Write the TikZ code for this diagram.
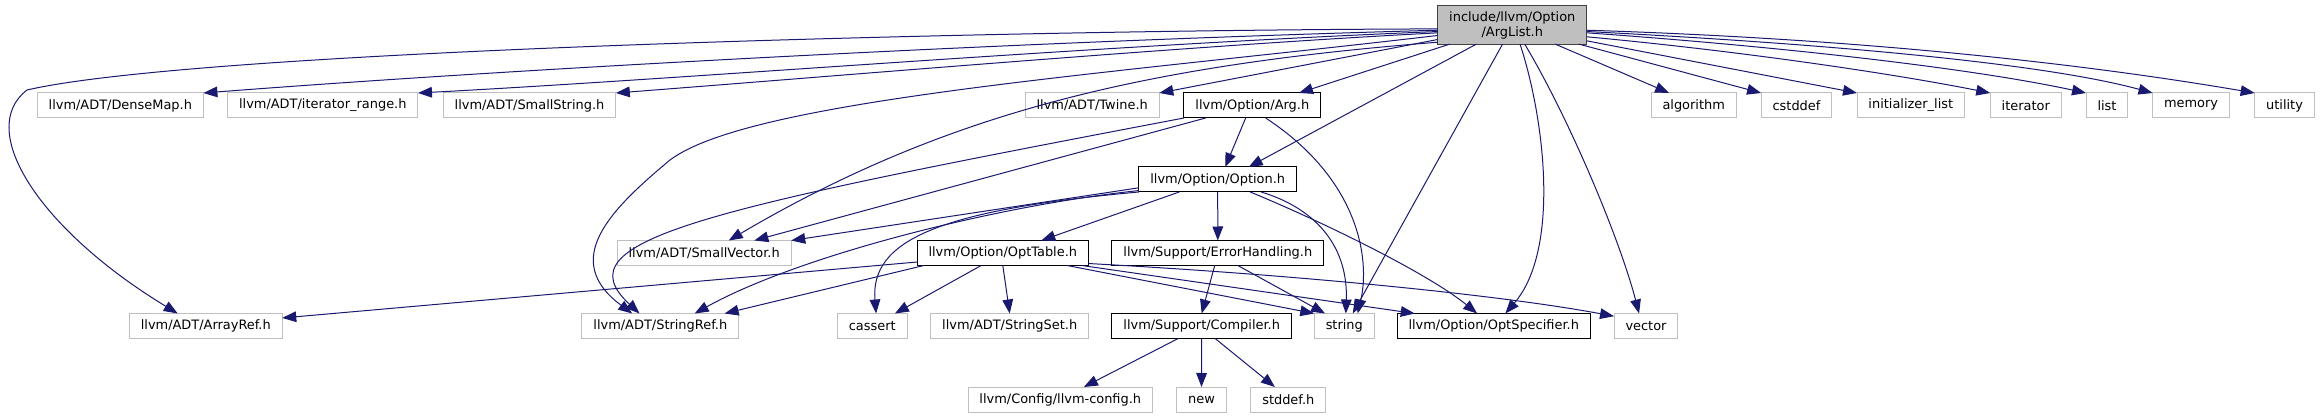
\documentclass[tikz,border=0pt]{standalone}
\usepackage{fontspec}
\setmainfont{DejaVu Sans}
\usetikzlibrary{arrows.meta}

\definecolor{edgeblue}{HTML}{191970}
\definecolor{boxgrey}{HTML}{BFBFBF}
\definecolor{rootline}{HTML}{404040}

\begin{document}
\begin{tikzpicture}[x=0.75pt,y=-0.75pt,
file/.style={draw=boxgrey,line width=0.75pt,inner xsep=8.6pt,inner ysep=0pt,
minimum height=18.75pt,outer sep=0pt,font=\fontsize{9.7}{11.25}\selectfont},
local/.style={file,draw=black},
root/.style={file,draw=rootline,fill=boxgrey,align=center,inner ysep=4pt},
inc/.style={-{Triangle[length=10.5pt,width=8pt]},draw=edgeblue,line width=0.75pt}]
\useasboundingbox (0,0) rectangle (2320,417);
% root
\node[root] (arglist) at (1512.3,25) {include/llvm/Option\\/ArgList.h};
% first row
\node[file] (densemap) at (120.3,105.5) {llvm/ADT/DenseMap.h};
\node[file] (itrange) at (322.8,105.5) {llvm/ADT/iterator\_range.h};
\node[file] (smallstring) at (529.5,105.5) {llvm/ADT/SmallString.h};
\node[file] (twine) at (1092.2,105.5) {llvm/ADT/Twine.h};
\node[local] (arg) at (1252.3,105.5) {llvm/Option/Arg.h};
\node[file] (algorithm) at (1693.7,105.5) {algorithm};
\node[file] (cstddef) at (1796.5,105.5) {cstddef};
\node[file] (initlist) at (1910.8,105.5) {initializer\_list};
\node[file] (iterator) at (2025.8,105.5) {iterator};
\node[file] (listh) at (2107,105.5) {list};
\node[file] (memory) at (2191,105.5) {memory};
\node[file] (utility) at (2284.5,105.5) {utility};
% second and third row
\node[local] (option) at (1217.7,179.5) {llvm/Option/Option.h};
\node[file] (smallvector) at (704.2,253) {llvm/ADT/SmallVector.h};
\node[local] (opttable) at (1002.8,253) {llvm/Option/OptTable.h};
\node[local] (errhandling) at (1217.8,253) {llvm/Support/ErrorHandling.h};
% fourth row
\node[file] (arrayref) at (205.8,326) {llvm/ADT/ArrayRef.h};
\node[file] (stringref) at (660.3,326) {llvm/ADT/StringRef.h};
\node[file] (cassert) at (872.3,326) {cassert};
\node[file] (stringset) at (1009.7,326) {llvm/ADT/StringSet.h};
\node[local] (compiler) at (1201.7,326) {llvm/Support/Compiler.h};
\node[file] (stringh) at (1344.3,326) {string};
\node[local] (optspec) at (1493.7,326) {llvm/Option/OptSpecifier.h};
\node[file] (vector) at (1646,326) {vector};
% last row
\node[file] (llvmconfig) at (1060.3,399.5) {llvm/Config/llvm-config.h};
\node[file] (newh) at (1201.5,399.5) {new};
\node[file] (stddef) at (1288.3,399.5) {stddef.h};

% ArgList.h
\draw[inc] (arglist.184) .. controls (1000,42) and (500,70) .. (densemap.north east);
\draw[inc] (arglist.185) .. controls (1100,45) and (700,78) .. (itrange.north east);
\draw[inc] (arglist.186) .. controls (1200,45) and (850,75) .. (smallstring.north east);
\draw[inc] (arglist.183) .. controls (1000,30) and (200,50) .. (27,90)
  .. controls (-25,130) and (40,230) .. (arrayref.156);
\draw[inc] (arglist.188) .. controls (1100,75) and (750,100) .. (670,160)
  .. controls (610,210) and (560,260) .. (stringref.156);
\draw[inc] (arglist.193) .. controls (1150,65) and (950,110) .. (smallvector.27);
\draw[inc] (arglist.191) -- (twine.north east);
\draw[inc] (arglist.197.6) -- (arg.15);
\draw[inc] (arglist.208) -- (option.22);
\draw[inc] (arglist.243) -- (stringh.56);
\draw[inc] (arglist.292) .. controls (1545,120) and (1560,250) .. (optspec.47);
\draw[inc] (arglist.303) .. controls (1570,120) and (1620,240) .. (vector.119);
\draw[inc] (arglist.336) -- (algorithm.153);
\draw[inc] (arglist.344) -- (cstddef.north west);
\draw[inc] (arglist.348) -- (initlist.north west);
\draw[inc] (arglist.351) .. controls (1750,52) and (1900,75) .. (iterator.north west);
\draw[inc] (arglist.354) .. controls (1800,48) and (1980,70) .. (listh.north west);
\draw[inc] (arglist.355) .. controls (1850,45) and (2050,65) .. (memory.north west);
\draw[inc] (arglist.356) .. controls (1900,40) and (2120,70) .. (utility.north west);
% Arg.h
\draw[inc] (arg.195.7) -- (smallvector.14);
\draw[inc] (arg.south west) .. controls (700,210) and (560,240) .. (stringref.149);
\draw[inc] (arg.242.5) -- (option.59);
\draw[inc] (arg.317) .. controls (1360,180) and (1370,260) .. (stringh.43);
% Option.h
\draw[inc] (option.186) -- (smallvector.north east);
\draw[inc] (option.188) .. controls (1000,205) and (800,255) .. (stringref.20);
\draw[inc] (option.189.5) .. controls (940,210) and (870,240) .. (cassert.73.5);
\draw[inc] (option.198.9) -- (opttable.18);
\draw[inc] (option.south) -- (errhandling.north);
\draw[inc] (option.344.6) .. controls (1320,210) and (1348,250) .. (stringh.83);
\draw[inc] (option.339) .. controls (1330,225) and (1430,275) .. (optspec.143);
% OptTable.h
\draw[inc] (opttable.186.7) -- (arrayref.6.6);
\draw[inc] (opttable.189.5) -- (stringref.11);
\draw[inc] (opttable.210) -- (cassert.29.6);
\draw[inc] (opttable.south) -- (stringset.north);
\draw[inc] (opttable.349) -- (stringh.north west);
\draw[inc] (opttable.351) -- (optspec.171);
\draw[inc] (opttable.353) .. controls (1300,275) and (1500,295) .. (vector.163.8);
% ErrorHandling.h
\draw[inc] (errhandling.256.5) -- (compiler.north);
\draw[inc] (errhandling.328.6) -- (stringh.147.3);
% Compiler.h
\draw[inc] (compiler.208) -- (llvmconfig.28.5);
\draw[inc] (compiler.south) -- (newh.north);
\draw[inc] (compiler.317) -- (stddef.137.2);
\end{tikzpicture}
\end{document}
